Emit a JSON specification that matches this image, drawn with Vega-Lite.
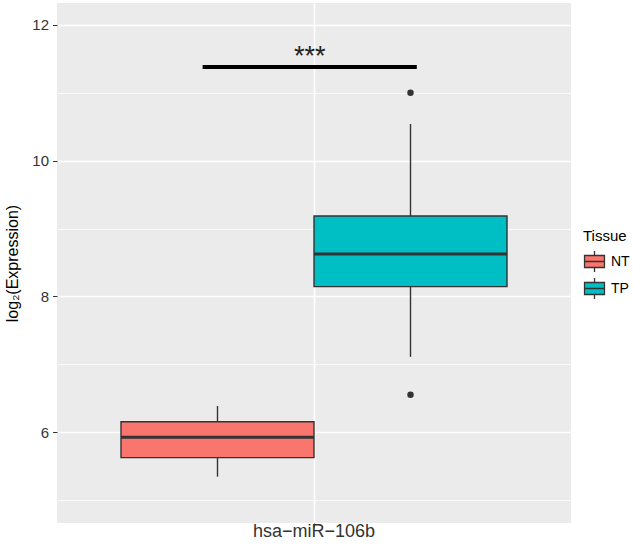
{
  "$schema": "https://vega.github.io/schema/vega-lite/v6.json",
  "autosize": "none",
  "width": 514,
  "height": 520,
  "padding": {"left": 57, "top": 3, "right": 62, "bottom": 25},
  "background": "white",
  "config": {
    "font": "Liberation Sans",
    "view": {"fill": "#EBEBEB", "stroke": null},
    "axis": {"domain": false, "tickColor": "#333333", "labelColor": "#333333", "gridColor": "#FFFFFF"}
  },
  "datasets": {
    "summary": [
      {"gene": "hsa−miR−106b", "Tissue": "NT", "lower": 5.344, "q1": 5.624, "median": 5.924, "q3": 6.154, "upper": 6.385},
      {"gene": "hsa−miR−106b", "Tissue": "TP", "lower": 7.11, "q1": 8.144, "median": 8.625, "q3": 9.185, "upper": 10.54}
    ],
    "outliers": [
      {"gene": "hsa−miR−106b", "Tissue": "TP", "value": 11.0},
      {"gene": "hsa−miR−106b", "Tissue": "TP", "value": 6.55}
    ],
    "signif": [
      {"start": 0.74, "end": 1.24, "mid": 0.99, "y": 11.38, "label": "***"}
    ]
  },
  "resolve": {"scale": {"x": "independent"}},
  "layer": [
    {
      "layer": [
        {
          "data": {"name": "summary"},
          "mark": {"type": "rule", "color": "#333333", "strokeWidth": 1.4},
          "encoding": {
            "x": {"field": "gene", "type": "nominal"},
            "xOffset": {"field": "Tissue", "type": "nominal"},
            "y": {"field": "lower", "type": "quantitative"},
            "y2": {"field": "upper"}
          }
        },
        {
          "data": {"name": "summary"},
          "mark": {"type": "bar", "stroke": "#333333", "strokeWidth": 1.4},
          "encoding": {
            "x": {"field": "gene", "type": "nominal"},
            "xOffset": {"field": "Tissue", "type": "nominal"},
            "y": {"field": "q1", "type": "quantitative"},
            "y2": {"field": "q3"},
            "fill": {
              "field": "Tissue", "type": "nominal",
              "scale": {"domain": ["NT", "TP"], "range": ["#F8766D", "#00BFC4"]},
              "legend": {
                "orient": "none", "legendX": 526, "legendY": 226,
                "padding": 0,
                "title": "Tissue", "titleFontSize": 15, "titleFontWeight": "normal", "titleColor": "#000000", "titlePadding": 6,
                "labelFontSize": 14, "labelColor": "#000000", "labelOffset": 5,
                "symbolType": "M-0.95,-0.57H0.95V0.57H-0.95Z M-0.95,0H0.95 M0,-0.57V-1 M0,0.57V1",
                "symbolSize": 441, "symbolStrokeColor": "#333333", "symbolStrokeWidth": 1.3,
                "symbolOpacity": 1, "rowPadding": 0
              }
            }
          }
        },
        {
          "data": {"name": "summary"},
          "mark": {"type": "bar", "stroke": "#333333", "strokeWidth": 3, "fillOpacity": 0},
          "encoding": {
            "x": {"field": "gene", "type": "nominal"},
            "xOffset": {"field": "Tissue", "type": "nominal"},
            "y": {"field": "median", "type": "quantitative"},
            "y2": {"field": "median"}
          }
        },
        {
          "data": {"name": "outliers"},
          "mark": {"type": "point", "filled": true, "color": "#333333", "size": 42, "opacity": 1},
          "encoding": {
            "x": {
              "field": "gene", "type": "nominal",
              "scale": {"paddingInner": 0, "paddingOuter": 0.1658},
              "axis": {"title": null, "labelAngle": 0, "labelAlign": "center", "labelFlush": false, "labelFontSize": 18, "labelPadding": 4, "tickSize": 4, "grid": true, "gridWidth": 1.6}
            },
            "xOffset": {"field": "Tissue", "type": "nominal", "scale": {"paddingInner": 0, "paddingOuter": 0}},
            "y": {
              "field": "value", "type": "quantitative",
              "scale": {"domain": [4.661, 12.324], "nice": false, "zero": false},
              "axis": {
                "values": [5, 6, 7, 8, 9, 10, 11, 12],
                "format": "d",
                "labelExpr": "datum.value % 2 == 0 ? datum.label : ''",
                "labelFontSize": 15, "labelPadding": 4,
                "tickSize": 4.5,
                "tickOpacity": {"condition": {"test": "datum.value % 2 == 0", "value": 1}, "value": 0},
                "grid": true,
                "gridWidth": {"condition": {"test": "datum.value % 2 == 0", "value": 1.6}, "value": 0.8},
                "title": "log₂(Expression)", "titleFontSize": 16, "titleFontWeight": "normal", "titleColor": "#000000",
                "titleAngle": -90, "titleX": -45, "titleY": 260, "titleAlign": "center", "titleBaseline": "middle"
              }
            }
          }
        }
      ]
    },
    {
      "data": {"name": "signif"},
      "layer": [
        {
          "mark": {"type": "rule", "color": "#000000", "strokeWidth": 4},
          "encoding": {
            "x": {"field": "start", "type": "quantitative", "scale": {"domain": [0.4, 1.6], "nice": false, "zero": false}, "axis": null},
            "x2": {"field": "end"},
            "y": {"field": "y", "type": "quantitative"}
          }
        },
        {
          "mark": {"type": "text", "fontSize": 27, "color": "#222222", "baseline": "alphabetic", "dy": -2},
          "encoding": {
            "x": {"field": "mid", "type": "quantitative", "axis": null},
            "y": {"field": "y", "type": "quantitative"},
            "text": {"field": "label"}
          }
        }
      ]
    }
  ]
}
